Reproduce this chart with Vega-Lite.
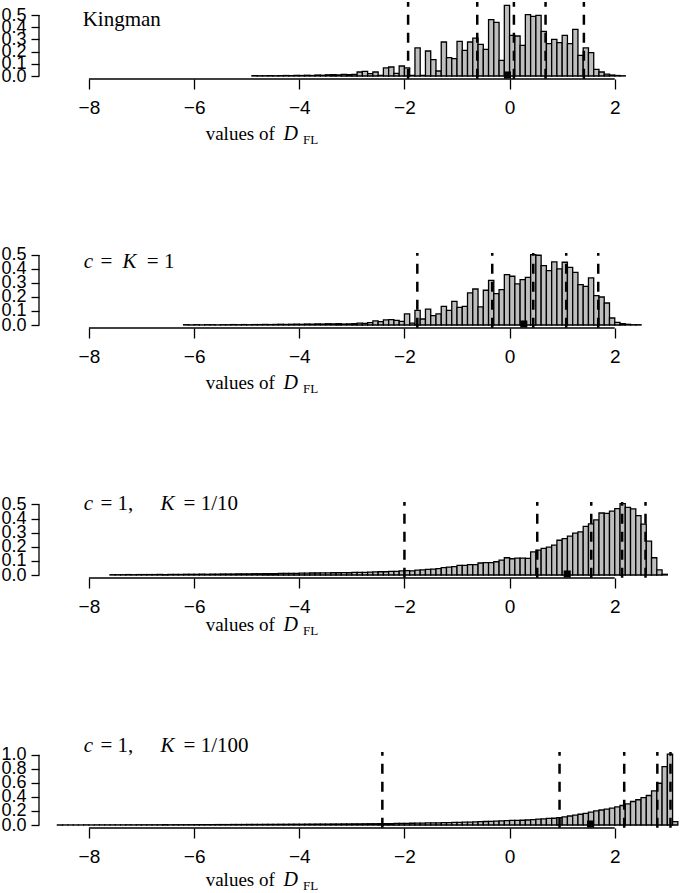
{
"$schema": "https://vega.github.io/schema/vega-lite/v6.json",
"padding": 0,
"background": "white",
"bounds": "flush",
"spacing": 177,
"config": {
  "view": {"stroke": null},
  "axis": {"labelFont": "Liberation Sans", "labelColor": "black", "tickColor": "black", "tickWidth": 1.3, "grid": false, "labelOverlap": false, "labelFlush": false, "labelBound": false, "domain": false}
},
"datasets": {
  "h1": [
    {"b":-4.9,"e":-4.8,"h":0.003},{"b":-4.8,"e":-4.7,"h":0.002},{"b":-4.7,"e":-4.6,"h":0.002},{"b":-4.6,"e":-4.5,"h":0.003},{"b":-4.5,"e":-4.4,"h":0.002},
    {"b":-4.4,"e":-4.3,"h":0.003},{"b":-4.3,"e":-4.2,"h":0.004},{"b":-4.2,"e":-4.1,"h":0.003},{"b":-4.1,"e":-4.0,"h":0.005},{"b":-4.0,"e":-3.9,"h":0.004},
    {"b":-3.9,"e":-3.8,"h":0.006},{"b":-3.8,"e":-3.7,"h":0.004},{"b":-3.7,"e":-3.6,"h":0.008},{"b":-3.6,"e":-3.5,"h":0.006},{"b":-3.5,"e":-3.4,"h":0.010},
    {"b":-3.4,"e":-3.3,"h":0.012},{"b":-3.3,"e":-3.2,"h":0.009},{"b":-3.2,"e":-3.1,"h":0.014},{"b":-3.1,"e":-3.0,"h":0.011},{"b":-3.0,"e":-2.9,"h":0.014},
    {"b":-2.9,"e":-2.8,"h":0.033},{"b":-2.8,"e":-2.7,"h":0.038},{"b":-2.7,"e":-2.6,"h":0.019},{"b":-2.6,"e":-2.5,"h":0.033},{"b":-2.5,"e":-2.4,"h":0.005},
    {"b":-2.4,"e":-2.3,"h":0.066},{"b":-2.3,"e":-2.2,"h":0.074},{"b":-2.2,"e":-2.1,"h":0.022},{"b":-2.1,"e":-2.0,"h":0.082},{"b":-2.0,"e":-1.9,"h":0.066},
    {"b":-1.9,"e":-1.8,"h":0.005},{"b":-1.8,"e":-1.7,"h":0.23},{"b":-1.7,"e":-1.6,"h":0.005},{"b":-1.6,"e":-1.5,"h":0.205},{"b":-1.5,"e":-1.4,"h":0.134},
    {"b":-1.4,"e":-1.3,"h":0.041},{"b":-1.3,"e":-1.2,"h":0.279},{"b":-1.2,"e":-1.1,"h":0.15},{"b":-1.1,"e":-1.0,"h":0.142},{"b":-1.0,"e":-0.9,"h":0.284},
    {"b":-0.9,"e":-0.8,"h":0.21},{"b":-0.8,"e":-0.7,"h":0.279},{"b":-0.7,"e":-0.6,"h":0.311},{"b":-0.6,"e":-0.5,"h":0.26},{"b":-0.5,"e":-0.4,"h":0.219},
    {"b":-0.4,"e":-0.3,"h":0.462},{"b":-0.3,"e":-0.2,"h":0.44},{"b":-0.2,"e":-0.1,"h":0.128},{"b":-0.1,"e":0.0,"h":0.579},{"b":0.0,"e":0.1,"h":0.333},
    {"b":0.1,"e":0.2,"h":0.328},{"b":0.2,"e":0.3,"h":0.251},{"b":0.3,"e":0.4,"h":0.503},{"b":0.4,"e":0.5,"h":0.489},{"b":0.5,"e":0.6,"h":0.497},
    {"b":0.6,"e":0.7,"h":0.366},{"b":0.7,"e":0.8,"h":0.265},{"b":0.8,"e":0.9,"h":0.30},{"b":0.9,"e":1.0,"h":0.273},{"b":1.0,"e":1.1,"h":0.333},
    {"b":1.1,"e":1.2,"h":0.265},{"b":1.2,"e":1.3,"h":0.383},{"b":1.3,"e":1.4,"h":0.169},{"b":1.4,"e":1.5,"h":0.23},{"b":1.5,"e":1.6,"h":0.191},
    {"b":1.6,"e":1.7,"h":0.055},{"b":1.7,"e":1.8,"h":0.033},{"b":1.8,"e":1.9,"h":0.016},{"b":1.9,"e":2.0,"h":0.008},{"b":2.0,"e":2.1,"h":0.004},
    {"b":2.1,"e":2.2,"h":0.002}
  ],
  "h2": [
    {"b":-6.2,"e":-6.1,"h":0.002},{"b":-6.1,"e":-6.0,"h":0.001},{"b":-6.0,"e":-5.9,"h":0.002},{"b":-5.9,"e":-5.8,"h":0.001},{"b":-5.8,"e":-5.7,"h":0.002},
    {"b":-5.7,"e":-5.6,"h":0.002},{"b":-5.6,"e":-5.5,"h":0.001},{"b":-5.5,"e":-5.4,"h":0.002},{"b":-5.4,"e":-5.3,"h":0.002},{"b":-5.3,"e":-5.2,"h":0.003},
    {"b":-5.2,"e":-5.1,"h":0.002},{"b":-5.1,"e":-5.0,"h":0.003},{"b":-5.0,"e":-4.9,"h":0.002},{"b":-4.9,"e":-4.8,"h":0.003},{"b":-4.8,"e":-4.7,"h":0.003},
    {"b":-4.7,"e":-4.6,"h":0.004},{"b":-4.6,"e":-4.5,"h":0.003},{"b":-4.5,"e":-4.4,"h":0.004},{"b":-4.4,"e":-4.3,"h":0.005},{"b":-4.3,"e":-4.2,"h":0.004},
    {"b":-4.2,"e":-4.1,"h":0.005},{"b":-4.1,"e":-4.0,"h":0.006},{"b":-4.0,"e":-3.9,"h":0.005},{"b":-3.9,"e":-3.8,"h":0.007},{"b":-3.8,"e":-3.7,"h":0.006},
    {"b":-3.7,"e":-3.6,"h":0.008},{"b":-3.6,"e":-3.5,"h":0.007},{"b":-3.5,"e":-3.4,"h":0.009},{"b":-3.4,"e":-3.3,"h":0.008},{"b":-3.3,"e":-3.2,"h":0.010},
    {"b":-3.2,"e":-3.1,"h":0.007},{"b":-3.1,"e":-3.0,"h":0.008},{"b":-3.0,"e":-2.9,"h":0.010},{"b":-2.9,"e":-2.8,"h":0.014},{"b":-2.8,"e":-2.7,"h":0.012},
    {"b":-2.7,"e":-2.6,"h":0.017},{"b":-2.6,"e":-2.5,"h":0.029},{"b":-2.5,"e":-2.4,"h":0.024},{"b":-2.4,"e":-2.3,"h":0.036},{"b":-2.3,"e":-2.2,"h":0.038},
    {"b":-2.2,"e":-2.1,"h":0.033},{"b":-2.1,"e":-2.0,"h":0.026},{"b":-2.0,"e":-1.9,"h":0.079},{"b":-1.9,"e":-1.8,"h":0.014},{"b":-1.8,"e":-1.7,"h":0.105},
    {"b":-1.7,"e":-1.6,"h":0.043},{"b":-1.6,"e":-1.5,"h":0.114},{"b":-1.5,"e":-1.4,"h":0.067},{"b":-1.4,"e":-1.3,"h":0.079},{"b":-1.3,"e":-1.2,"h":0.133},
    {"b":-1.2,"e":-1.1,"h":0.105},{"b":-1.1,"e":-1.0,"h":0.169},{"b":-1.0,"e":-0.9,"h":0.126},{"b":-0.9,"e":-0.8,"h":0.133},{"b":-0.8,"e":-0.7,"h":0.229},
    {"b":-0.7,"e":-0.6,"h":0.257},{"b":-0.6,"e":-0.5,"h":0.129},{"b":-0.5,"e":-0.4,"h":0.248},{"b":-0.4,"e":-0.3,"h":0.319},{"b":-0.3,"e":-0.2,"h":0.224},
    {"b":-0.2,"e":-0.1,"h":0.252},{"b":-0.1,"e":0.0,"h":0.36},{"b":0.0,"e":0.1,"h":0.348},{"b":0.1,"e":0.2,"h":0.293},{"b":0.2,"e":0.3,"h":0.324},
    {"b":0.3,"e":0.4,"h":0.34},{"b":0.4,"e":0.5,"h":0.502},{"b":0.5,"e":0.6,"h":0.498},{"b":0.6,"e":0.7,"h":0.424},{"b":0.7,"e":0.8,"h":0.388},
    {"b":0.8,"e":0.9,"h":0.45},{"b":0.9,"e":1.0,"h":0.40},{"b":1.0,"e":1.1,"h":0.448},{"b":1.1,"e":1.2,"h":0.412},{"b":1.2,"e":1.3,"h":0.376},
    {"b":1.3,"e":1.4,"h":0.288},{"b":1.4,"e":1.5,"h":0.276},{"b":1.5,"e":1.6,"h":0.336},{"b":1.6,"e":1.7,"h":0.21},{"b":1.7,"e":1.8,"h":0.20},
    {"b":1.8,"e":1.9,"h":0.157},{"b":1.9,"e":2.0,"h":0.05},{"b":2.0,"e":2.1,"h":0.019},{"b":2.1,"e":2.2,"h":0.01},{"b":2.2,"e":2.3,"h":0.005},
    {"b":2.3,"e":2.4,"h":0.002},{"b":2.4,"e":2.5,"h":0.002}
  ],
  "h3": [
    {"b":-7.6,"e":-7.5,"h":0.002},{"b":-7.5,"e":-7.4,"h":0.002},{"b":-7.4,"e":-7.3,"h":0.002},{"b":-7.3,"e":-7.2,"h":0.003},{"b":-7.2,"e":-7.1,"h":0.002},
    {"b":-7.1,"e":-7.0,"h":0.003},{"b":-7.0,"e":-6.9,"h":0.003},{"b":-6.9,"e":-6.8,"h":0.003},{"b":-6.8,"e":-6.7,"h":0.003},{"b":-6.7,"e":-6.6,"h":0.004},
    {"b":-6.6,"e":-6.5,"h":0.003},{"b":-6.5,"e":-6.4,"h":0.004},{"b":-6.4,"e":-6.3,"h":0.004},{"b":-6.3,"e":-6.2,"h":0.004},{"b":-6.2,"e":-6.1,"h":0.005},
    {"b":-6.1,"e":-6.0,"h":0.005},{"b":-6.0,"e":-5.9,"h":0.005},{"b":-5.9,"e":-5.8,"h":0.006},{"b":-5.8,"e":-5.7,"h":0.005},{"b":-5.7,"e":-5.6,"h":0.006},
    {"b":-5.6,"e":-5.5,"h":0.006},{"b":-5.5,"e":-5.4,"h":0.007},{"b":-5.4,"e":-5.3,"h":0.007},{"b":-5.3,"e":-5.2,"h":0.007},{"b":-5.2,"e":-5.1,"h":0.008},
    {"b":-5.1,"e":-5.0,"h":0.008},{"b":-5.0,"e":-4.9,"h":0.008},{"b":-4.9,"e":-4.8,"h":0.009},{"b":-4.8,"e":-4.7,"h":0.009},{"b":-4.7,"e":-4.6,"h":0.010},
    {"b":-4.6,"e":-4.5,"h":0.010},{"b":-4.5,"e":-4.4,"h":0.010},{"b":-4.4,"e":-4.3,"h":0.011},{"b":-4.3,"e":-4.2,"h":0.011},{"b":-4.2,"e":-4.1,"h":0.012},
    {"b":-4.1,"e":-4.0,"h":0.012},{"b":-4.0,"e":-3.9,"h":0.013},{"b":-3.9,"e":-3.8,"h":0.013},{"b":-3.8,"e":-3.7,"h":0.014},{"b":-3.7,"e":-3.6,"h":0.014},
    {"b":-3.6,"e":-3.5,"h":0.015},{"b":-3.5,"e":-3.4,"h":0.015},{"b":-3.4,"e":-3.3,"h":0.016},{"b":-3.3,"e":-3.2,"h":0.016},{"b":-3.2,"e":-3.1,"h":0.017},
    {"b":-3.1,"e":-3.0,"h":0.016},{"b":-3.0,"e":-2.9,"h":0.018},{"b":-2.9,"e":-2.8,"h":0.019},{"b":-2.8,"e":-2.7,"h":0.018},{"b":-2.7,"e":-2.6,"h":0.021},
    {"b":-2.6,"e":-2.5,"h":0.022},{"b":-2.5,"e":-2.4,"h":0.023},{"b":-2.4,"e":-2.3,"h":0.023},{"b":-2.3,"e":-2.2,"h":0.025},{"b":-2.2,"e":-2.1,"h":0.026},
    {"b":-2.1,"e":-2.0,"h":0.029},{"b":-2.0,"e":-1.9,"h":0.031},{"b":-1.9,"e":-1.8,"h":0.029},{"b":-1.8,"e":-1.7,"h":0.034},{"b":-1.7,"e":-1.6,"h":0.036},
    {"b":-1.6,"e":-1.5,"h":0.040},{"b":-1.5,"e":-1.4,"h":0.042},{"b":-1.4,"e":-1.3,"h":0.045},{"b":-1.3,"e":-1.2,"h":0.052},{"b":-1.2,"e":-1.1,"h":0.056},
    {"b":-1.1,"e":-1.0,"h":0.059},{"b":-1.0,"e":-0.9,"h":0.068},{"b":-0.9,"e":-0.8,"h":0.068},{"b":-0.8,"e":-0.7,"h":0.073},{"b":-0.7,"e":-0.6,"h":0.073},
    {"b":-0.6,"e":-0.5,"h":0.085},{"b":-0.5,"e":-0.4,"h":0.087},{"b":-0.4,"e":-0.3,"h":0.087},{"b":-0.3,"e":-0.2,"h":0.094},{"b":-0.2,"e":-0.1,"h":0.105},
    {"b":-0.1,"e":0.0,"h":0.122},{"b":0.0,"e":0.1,"h":0.115},{"b":0.1,"e":0.2,"h":0.12},{"b":0.2,"e":0.3,"h":0.12},{"b":0.3,"e":0.4,"h":0.118},
    {"b":0.4,"e":0.5,"h":0.164},{"b":0.5,"e":0.6,"h":0.176},{"b":0.6,"e":0.7,"h":0.188},{"b":0.7,"e":0.8,"h":0.197},{"b":0.8,"e":0.9,"h":0.211},
    {"b":0.9,"e":1.0,"h":0.246},{"b":1.0,"e":1.1,"h":0.258},{"b":1.1,"e":1.2,"h":0.275},{"b":1.2,"e":1.3,"h":0.296},{"b":1.3,"e":1.4,"h":0.305},
    {"b":1.4,"e":1.5,"h":0.345},{"b":1.5,"e":1.6,"h":0.362},{"b":1.6,"e":1.7,"h":0.39},{"b":1.7,"e":1.8,"h":0.439},{"b":1.8,"e":1.9,"h":0.436},
    {"b":1.9,"e":2.0,"h":0.452},{"b":2.0,"e":2.1,"h":0.47},{"b":2.1,"e":2.2,"h":0.505},{"b":2.2,"e":2.3,"h":0.479},{"b":2.3,"e":2.4,"h":0.468},
    {"b":2.4,"e":2.5,"h":0.42},{"b":2.5,"e":2.6,"h":0.36},{"b":2.6,"e":2.7,"h":0.24},{"b":2.7,"e":2.8,"h":0.122},{"b":2.8,"e":2.9,"h":0.037},
    {"b":2.9,"e":3.0,"h":0.005}
  ],
  "h4": [
    {"b":-8.6,"e":-8.5,"h":0.001},{"b":-8.5,"e":-8.4,"h":0.001},{"b":-8.4,"e":-8.3,"h":0.001},{"b":-8.3,"e":-8.2,"h":0.001},{"b":-8.2,"e":-8.1,"h":0.001},
    {"b":-8.1,"e":-8.0,"h":0.002},{"b":-8.0,"e":-7.9,"h":0.001},{"b":-7.9,"e":-7.8,"h":0.002},{"b":-7.8,"e":-7.7,"h":0.002},{"b":-7.7,"e":-7.6,"h":0.002},
    {"b":-7.6,"e":-7.5,"h":0.002},{"b":-7.5,"e":-7.4,"h":0.002},{"b":-7.4,"e":-7.3,"h":0.002},{"b":-7.3,"e":-7.2,"h":0.003},{"b":-7.2,"e":-7.1,"h":0.002},
    {"b":-7.1,"e":-7.0,"h":0.003},{"b":-7.0,"e":-6.9,"h":0.003},{"b":-6.9,"e":-6.8,"h":0.003},{"b":-6.8,"e":-6.7,"h":0.003},{"b":-6.7,"e":-6.6,"h":0.003},
    {"b":-6.6,"e":-6.5,"h":0.004},{"b":-6.5,"e":-6.4,"h":0.003},{"b":-6.4,"e":-6.3,"h":0.004},{"b":-6.3,"e":-6.2,"h":0.004},{"b":-6.2,"e":-6.1,"h":0.004},
    {"b":-6.1,"e":-6.0,"h":0.004},{"b":-6.0,"e":-5.9,"h":0.005},{"b":-5.9,"e":-5.8,"h":0.005},{"b":-5.8,"e":-5.7,"h":0.005},{"b":-5.7,"e":-5.6,"h":0.005},
    {"b":-5.6,"e":-5.5,"h":0.006},{"b":-5.5,"e":-5.4,"h":0.006},{"b":-5.4,"e":-5.3,"h":0.006},{"b":-5.3,"e":-5.2,"h":0.007},{"b":-5.2,"e":-5.1,"h":0.007},
    {"b":-5.1,"e":-5.0,"h":0.007},{"b":-5.0,"e":-4.9,"h":0.008},{"b":-4.9,"e":-4.8,"h":0.008},{"b":-4.8,"e":-4.7,"h":0.008},{"b":-4.7,"e":-4.6,"h":0.009},
    {"b":-4.6,"e":-4.5,"h":0.009},{"b":-4.5,"e":-4.4,"h":0.009},{"b":-4.4,"e":-4.3,"h":0.010},{"b":-4.3,"e":-4.2,"h":0.010},{"b":-4.2,"e":-4.1,"h":0.011},
    {"b":-4.1,"e":-4.0,"h":0.011},{"b":-4.0,"e":-3.9,"h":0.011},{"b":-3.9,"e":-3.8,"h":0.012},{"b":-3.8,"e":-3.7,"h":0.012},{"b":-3.7,"e":-3.6,"h":0.013},
    {"b":-3.6,"e":-3.5,"h":0.013},{"b":-3.5,"e":-3.4,"h":0.013},{"b":-3.4,"e":-3.3,"h":0.014},{"b":-3.3,"e":-3.2,"h":0.014},{"b":-3.2,"e":-3.1,"h":0.015},
    {"b":-3.1,"e":-3.0,"h":0.015},{"b":-3.0,"e":-2.9,"h":0.016},{"b":-2.9,"e":-2.8,"h":0.016},{"b":-2.8,"e":-2.7,"h":0.017},{"b":-2.7,"e":-2.6,"h":0.018},
    {"b":-2.6,"e":-2.5,"h":0.018},{"b":-2.5,"e":-2.4,"h":0.019},{"b":-2.4,"e":-2.3,"h":0.020},{"b":-2.3,"e":-2.2,"h":0.021},{"b":-2.2,"e":-2.1,"h":0.022},
    {"b":-2.1,"e":-2.0,"h":0.023},{"b":-2.0,"e":-1.9,"h":0.024},{"b":-1.9,"e":-1.8,"h":0.025},{"b":-1.8,"e":-1.7,"h":0.026},{"b":-1.7,"e":-1.6,"h":0.027},
    {"b":-1.6,"e":-1.5,"h":0.029},{"b":-1.5,"e":-1.4,"h":0.030},{"b":-1.4,"e":-1.3,"h":0.031},{"b":-1.3,"e":-1.2,"h":0.033},{"b":-1.2,"e":-1.1,"h":0.035},
    {"b":-1.1,"e":-1.0,"h":0.036},{"b":-1.0,"e":-0.9,"h":0.038},{"b":-0.9,"e":-0.8,"h":0.040},{"b":-0.8,"e":-0.7,"h":0.042},{"b":-0.7,"e":-0.6,"h":0.045},
    {"b":-0.6,"e":-0.5,"h":0.047},{"b":-0.5,"e":-0.4,"h":0.050},{"b":-0.4,"e":-0.3,"h":0.052},{"b":-0.3,"e":-0.2,"h":0.055},{"b":-0.2,"e":-0.1,"h":0.058},
    {"b":-0.1,"e":0.0,"h":0.062},{"b":0.0,"e":0.1,"h":0.066},{"b":0.1,"e":0.2,"h":0.067},{"b":0.2,"e":0.3,"h":0.068},{"b":0.3,"e":0.4,"h":0.071},
    {"b":0.4,"e":0.5,"h":0.078},{"b":0.5,"e":0.6,"h":0.085},{"b":0.6,"e":0.7,"h":0.087},{"b":0.7,"e":0.8,"h":0.094},{"b":0.8,"e":0.9,"h":0.096},
    {"b":0.9,"e":1.0,"h":0.105},{"b":1.0,"e":1.1,"h":0.117},{"b":1.1,"e":1.2,"h":0.128},{"b":1.2,"e":1.3,"h":0.14},{"b":1.3,"e":1.4,"h":0.153},
    {"b":1.4,"e":1.5,"h":0.167},{"b":1.5,"e":1.6,"h":0.183},{"b":1.6,"e":1.7,"h":0.2},{"b":1.7,"e":1.8,"h":0.214},{"b":1.8,"e":1.9,"h":0.226},
    {"b":1.9,"e":2.0,"h":0.24},{"b":2.0,"e":2.1,"h":0.258},{"b":2.1,"e":2.2,"h":0.278},{"b":2.2,"e":2.3,"h":0.30},{"b":2.3,"e":2.4,"h":0.335},
    {"b":2.4,"e":2.5,"h":0.36},{"b":2.5,"e":2.6,"h":0.39},{"b":2.6,"e":2.7,"h":0.42},{"b":2.7,"e":2.8,"h":0.486},{"b":2.8,"e":2.9,"h":0.595},
    {"b":2.9,"e":3.0,"h":0.833},{"b":3.0,"e":3.1,"h":1.01},{"b":3.1,"e":3.2,"h":0.048}
  ],
  "q1": [{"q":-1.93},{"q":-0.615},{"q":0.082},{"q":0.684},{"q":1.413}],
  "q2": [{"q":-1.755},{"q":-0.33},{"q":0.45},{"q":1.077},{"q":1.686}],
  "q3": [{"q":-2.0},{"q":0.526},{"q":1.553},{"q":2.14},{"q":2.585}],
  "q4": [{"q":-2.42},{"q":0.95},{"q":2.18},{"q":2.81},{"q":3.06}],
  "m1": [{"m":-0.04}],
  "m2": [{"m":0.27}],
  "m3": [{"m":1.096}],
  "m4": [{"m":1.54}],
  "one": [{}]
},
"vconcat": [
 {
  "width": 642, "height": 74,
  "resolve": {"axis": {"x": "independent", "y": "independent"}},
  "layer": [
   {"data": {"name": "h1"}, "mark": {"type": "rect", "fill": "#bebebe", "stroke": "black", "strokeWidth": 1.3},
    "encoding": {
     "x": {"field": "b", "type": "quantitative", "scale": {"domain": [-8.95, 3.26], "nice": false, "zero": false},
           "axis": {"values": [-8,-6,-4,-2,0,2], "format": "d", "offset": 3, "tickSize": 10, "labelFontSize": 19, "labelPadding": 9, "title": null}},
     "x2": {"field": "e"},
     "y": {"field": "h", "type": "quantitative", "scale": {"domain": [0, 0.607], "nice": false},
           "axis": {"values": [0,0.1,0.2,0.3,0.4,0.5], "format": ".1f", "tickSize": 8, "labelPadding": 5, "labelFontSize": 18, "title": null}},
     "y2": {"datum": 0}
    }},
   {"data": {"name": "q1"}, "mark": {"type": "rule", "color": "black", "strokeWidth": 2.5, "strokeDash": [10, 8]},
    "encoding": {"x": {"field": "q", "type": "quantitative", "axis": null}, "y": {"datum": -0.022, "axis": null}, "y2": {"datum": 0.607}}},
   {"data": {"name": "m1"}, "mark": {"type": "square", "size": 50, "color": "black", "filled": true, "opacity": 1, "yOffset": -1},
    "encoding": {"x": {"field": "m", "type": "quantitative", "axis": null}, "y": {"datum": 0, "axis": null}}},
   {"data": {"name": "one"}, "mark": {"type": "rule", "color": "black", "strokeWidth": 1.3},
    "encoding": {"x": {"datum": -8.95, "axis": null}, "y": {"datum": 0, "axis": null}, "y2": {"datum": 0.5}}},
   {"data": {"name": "one"}, "mark": {"type": "rule", "color": "black", "strokeWidth": 1.3, "yOffset": 3},
    "encoding": {"x": {"datum": -8, "axis": null}, "x2": {"datum": 2}, "y": {"datum": 0, "axis": null}}},
   {"data": {"name": "one"}, "mark": {"type": "text", "font": "Liberation Serif", "fontSize": 21, "align": "left", "baseline": "alphabetic", "color": "black"},
    "encoding": {"x": {"datum": -8.12, "axis": null}, "y": {"datum": 0.41, "axis": null}, "text": {"value": "Kingman"}}},
   {"data": {"name": "one"}, "mark": {"type": "text", "font": "Liberation Serif", "fontSize": 19, "align": "left", "baseline": "alphabetic", "dy": 64, "color": "black"},
    "encoding": {"x": {"datum": -5.78, "axis": null}, "y": {"datum": 0, "axis": null}, "text": {"value": "values of"}}},
   {"data": {"name": "one"}, "mark": {"type": "text", "font": "Liberation Serif", "fontStyle": "italic", "fontSize": 20, "align": "left", "baseline": "alphabetic", "dy": 64, "color": "black"},
    "encoding": {"x": {"datum": -4.3, "axis": null}, "y": {"datum": 0, "axis": null}, "text": {"value": "D"}}},
   {"data": {"name": "one"}, "mark": {"type": "text", "font": "Liberation Serif", "fontSize": 13, "align": "left", "baseline": "alphabetic", "dy": 68, "color": "black"},
    "encoding": {"x": {"datum": -3.93, "axis": null}, "y": {"datum": 0, "axis": null}, "text": {"value": "FL"}}}
  ]
 },
 {
  "width": 642, "height": 72,
  "resolve": {"axis": {"x": "independent", "y": "independent"}},
  "layer": [
   {"data": {"name": "h2"}, "mark": {"type": "rect", "fill": "#bebebe", "stroke": "black", "strokeWidth": 1.3},
    "encoding": {
     "x": {"field": "b", "type": "quantitative", "scale": {"domain": [-8.95, 3.26], "nice": false, "zero": false},
           "axis": {"values": [-8,-6,-4,-2,0,2], "format": "d", "offset": 3, "tickSize": 10, "labelFontSize": 19, "labelPadding": 9, "title": null}},
     "x2": {"field": "e"},
     "y": {"field": "h", "type": "quantitative", "scale": {"domain": [0, 0.514], "nice": false},
           "axis": {"values": [0,0.1,0.2,0.3,0.4,0.5], "format": ".1f", "tickSize": 8, "labelPadding": 5, "labelFontSize": 18, "title": null}},
     "y2": {"datum": 0}
    }},
   {"data": {"name": "q2"}, "mark": {"type": "rule", "color": "black", "strokeWidth": 2.5, "strokeDash": [10, 8]},
    "encoding": {"x": {"field": "q", "type": "quantitative", "axis": null}, "y": {"datum": -0.019, "axis": null}, "y2": {"datum": 0.514}}},
   {"data": {"name": "m2"}, "mark": {"type": "square", "size": 50, "color": "black", "filled": true, "opacity": 1, "yOffset": -1},
    "encoding": {"x": {"field": "m", "type": "quantitative", "axis": null}, "y": {"datum": 0, "axis": null}}},
   {"data": {"name": "one"}, "mark": {"type": "rule", "color": "black", "strokeWidth": 1.3},
    "encoding": {"x": {"datum": -8.95, "axis": null}, "y": {"datum": 0, "axis": null}, "y2": {"datum": 0.5}}},
   {"data": {"name": "one"}, "mark": {"type": "rule", "color": "black", "strokeWidth": 1.3, "yOffset": 3},
    "encoding": {"x": {"datum": -8, "axis": null}, "x2": {"datum": 2}, "y": {"datum": 0, "axis": null}}},
   {"data": {"name": "one"}, "mark": {"type": "text", "font": "Liberation Serif", "fontStyle": "italic", "fontSize": 21, "align": "left", "baseline": "alphabetic", "color": "black"},
    "encoding": {"x": {"datum": -8.10, "axis": null}, "y": {"datum": 0.407, "axis": null}, "text": {"value": "c"}}},
   {"data": {"name": "one"}, "mark": {"type": "text", "font": "Liberation Serif", "fontSize": 21, "align": "left", "baseline": "alphabetic", "color": "black"},
    "encoding": {"x": {"datum": -7.78, "axis": null}, "y": {"datum": 0.407, "axis": null}, "text": {"value": "="}}},
   {"data": {"name": "one"}, "mark": {"type": "text", "font": "Liberation Serif", "fontStyle": "italic", "fontSize": 21, "align": "left", "baseline": "alphabetic", "color": "black"},
    "encoding": {"x": {"datum": -7.36, "axis": null}, "y": {"datum": 0.407, "axis": null}, "text": {"value": "K"}}},
   {"data": {"name": "one"}, "mark": {"type": "text", "font": "Liberation Serif", "fontSize": 21, "align": "left", "baseline": "alphabetic", "color": "black"},
    "encoding": {"x": {"datum": -6.90, "axis": null}, "y": {"datum": 0.407, "axis": null}, "text": {"value": "=  1"}}},
   {"data": {"name": "one"}, "mark": {"type": "text", "font": "Liberation Serif", "fontSize": 19, "align": "left", "baseline": "alphabetic", "dy": 64, "color": "black"},
    "encoding": {"x": {"datum": -5.78, "axis": null}, "y": {"datum": 0, "axis": null}, "text": {"value": "values of"}}},
   {"data": {"name": "one"}, "mark": {"type": "text", "font": "Liberation Serif", "fontStyle": "italic", "fontSize": 20, "align": "left", "baseline": "alphabetic", "dy": 64, "color": "black"},
    "encoding": {"x": {"datum": -4.3, "axis": null}, "y": {"datum": 0, "axis": null}, "text": {"value": "D"}}},
   {"data": {"name": "one"}, "mark": {"type": "text", "font": "Liberation Serif", "fontSize": 13, "align": "left", "baseline": "alphabetic", "dy": 68, "color": "black"},
    "encoding": {"x": {"datum": -3.93, "axis": null}, "y": {"datum": 0, "axis": null}, "text": {"value": "FL"}}}
  ]
 },
 {
  "width": 642, "height": 73,
  "resolve": {"axis": {"x": "independent", "y": "independent"}},
  "layer": [
   {"data": {"name": "h3"}, "mark": {"type": "rect", "fill": "#bebebe", "stroke": "black", "strokeWidth": 1.3},
    "encoding": {
     "x": {"field": "b", "type": "quantitative", "scale": {"domain": [-8.95, 3.26], "nice": false, "zero": false},
           "axis": {"values": [-8,-6,-4,-2,0,2], "format": "d", "offset": 3, "tickSize": 10, "labelFontSize": 19, "labelPadding": 9, "title": null}},
     "x2": {"field": "e"},
     "y": {"field": "h", "type": "quantitative", "scale": {"domain": [0, 0.517], "nice": false},
           "axis": {"values": [0,0.1,0.2,0.3,0.4,0.5], "format": ".1f", "tickSize": 8, "labelPadding": 5, "labelFontSize": 18, "title": null}},
     "y2": {"datum": 0}
    }},
   {"data": {"name": "q3"}, "mark": {"type": "rule", "color": "black", "strokeWidth": 2.5, "strokeDash": [10, 8]},
    "encoding": {"x": {"field": "q", "type": "quantitative", "axis": null}, "y": {"datum": -0.019, "axis": null}, "y2": {"datum": 0.517}}},
   {"data": {"name": "m3"}, "mark": {"type": "square", "size": 50, "color": "black", "filled": true, "opacity": 1, "yOffset": -1},
    "encoding": {"x": {"field": "m", "type": "quantitative", "axis": null}, "y": {"datum": 0, "axis": null}}},
   {"data": {"name": "one"}, "mark": {"type": "rule", "color": "black", "strokeWidth": 1.3},
    "encoding": {"x": {"datum": -8.95, "axis": null}, "y": {"datum": 0, "axis": null}, "y2": {"datum": 0.5}}},
   {"data": {"name": "one"}, "mark": {"type": "rule", "color": "black", "strokeWidth": 1.3, "yOffset": 3},
    "encoding": {"x": {"datum": -8, "axis": null}, "x2": {"datum": 2}, "y": {"datum": 0, "axis": null}}},
   {"data": {"name": "one"}, "mark": {"type": "text", "font": "Liberation Serif", "fontStyle": "italic", "fontSize": 21, "align": "left", "baseline": "alphabetic", "color": "black"},
    "encoding": {"x": {"datum": -8.10, "axis": null}, "y": {"datum": 0.46, "axis": null}, "text": {"value": "c"}}},
   {"data": {"name": "one"}, "mark": {"type": "text", "font": "Liberation Serif", "fontSize": 21, "align": "left", "baseline": "alphabetic", "color": "black"},
    "encoding": {"x": {"datum": -7.78, "axis": null}, "y": {"datum": 0.46, "axis": null}, "text": {"value": "=  1,"}}},
   {"data": {"name": "one"}, "mark": {"type": "text", "font": "Liberation Serif", "fontStyle": "italic", "fontSize": 21, "align": "left", "baseline": "alphabetic", "color": "black"},
    "encoding": {"x": {"datum": -6.64, "axis": null}, "y": {"datum": 0.46, "axis": null}, "text": {"value": "K"}}},
   {"data": {"name": "one"}, "mark": {"type": "text", "font": "Liberation Serif", "fontSize": 21, "align": "left", "baseline": "alphabetic", "color": "black"},
    "encoding": {"x": {"datum": -6.20, "axis": null}, "y": {"datum": 0.46, "axis": null}, "text": {"value": "=  1/10"}}},
   {"data": {"name": "one"}, "mark": {"type": "text", "font": "Liberation Serif", "fontSize": 19, "align": "left", "baseline": "alphabetic", "dy": 56, "color": "black"},
    "encoding": {"x": {"datum": -5.78, "axis": null}, "y": {"datum": 0, "axis": null}, "text": {"value": "values of"}}},
   {"data": {"name": "one"}, "mark": {"type": "text", "font": "Liberation Serif", "fontStyle": "italic", "fontSize": 20, "align": "left", "baseline": "alphabetic", "dy": 56, "color": "black"},
    "encoding": {"x": {"datum": -4.3, "axis": null}, "y": {"datum": 0, "axis": null}, "text": {"value": "D"}}},
   {"data": {"name": "one"}, "mark": {"type": "text", "font": "Liberation Serif", "fontSize": 13, "align": "left", "baseline": "alphabetic", "dy": 60, "color": "black"},
    "encoding": {"x": {"datum": -3.93, "axis": null}, "y": {"datum": 0, "axis": null}, "text": {"value": "FL"}}}
  ]
 },
 {
  "width": 642, "height": 73,
  "resolve": {"axis": {"x": "independent", "y": "independent"}},
  "layer": [
   {"data": {"name": "h4"}, "mark": {"type": "rect", "fill": "#bebebe", "stroke": "black", "strokeWidth": 1.3},
    "encoding": {
     "x": {"field": "b", "type": "quantitative", "scale": {"domain": [-8.95, 3.26], "nice": false, "zero": false},
           "axis": {"values": [-8,-6,-4,-2,0,2], "format": "d", "offset": 3, "tickSize": 10, "labelFontSize": 19, "labelPadding": 9, "title": null}},
     "x2": {"field": "e"},
     "y": {"field": "h", "type": "quantitative", "scale": {"domain": [0, 1.04], "nice": false},
           "axis": {"values": [0,0.2,0.4,0.6,0.8,1.0], "format": ".1f", "tickSize": 8, "labelPadding": 5, "labelFontSize": 18, "title": null}},
     "y2": {"datum": 0}
    }},
   {"data": {"name": "q4"}, "mark": {"type": "rule", "color": "black", "strokeWidth": 2.5, "strokeDash": [10, 8]},
    "encoding": {"x": {"field": "q", "type": "quantitative", "axis": null}, "y": {"datum": -0.04, "axis": null}, "y2": {"datum": 1.04}}},
   {"data": {"name": "m4"}, "mark": {"type": "square", "size": 50, "color": "black", "filled": true, "opacity": 1, "yOffset": -1},
    "encoding": {"x": {"field": "m", "type": "quantitative", "axis": null}, "y": {"datum": 0, "axis": null}}},
   {"data": {"name": "one"}, "mark": {"type": "rule", "color": "black", "strokeWidth": 1.3},
    "encoding": {"x": {"datum": -8.95, "axis": null}, "y": {"datum": 0, "axis": null}, "y2": {"datum": 1.0}}},
   {"data": {"name": "one"}, "mark": {"type": "rule", "color": "black", "strokeWidth": 1.3, "yOffset": 3},
    "encoding": {"x": {"datum": -8, "axis": null}, "x2": {"datum": 2}, "y": {"datum": 0, "axis": null}}},
   {"data": {"name": "one"}, "mark": {"type": "text", "font": "Liberation Serif", "fontStyle": "italic", "fontSize": 21, "align": "left", "baseline": "alphabetic", "color": "black"},
    "encoding": {"x": {"datum": -8.10, "axis": null}, "y": {"datum": 1.04, "axis": null}, "text": {"value": "c"}}},
   {"data": {"name": "one"}, "mark": {"type": "text", "font": "Liberation Serif", "fontSize": 21, "align": "left", "baseline": "alphabetic", "color": "black"},
    "encoding": {"x": {"datum": -7.78, "axis": null}, "y": {"datum": 1.04, "axis": null}, "text": {"value": "=  1,"}}},
   {"data": {"name": "one"}, "mark": {"type": "text", "font": "Liberation Serif", "fontStyle": "italic", "fontSize": 21, "align": "left", "baseline": "alphabetic", "color": "black"},
    "encoding": {"x": {"datum": -6.64, "axis": null}, "y": {"datum": 1.04, "axis": null}, "text": {"value": "K"}}},
   {"data": {"name": "one"}, "mark": {"type": "text", "font": "Liberation Serif", "fontSize": 21, "align": "left", "baseline": "alphabetic", "color": "black"},
    "encoding": {"x": {"datum": -6.20, "axis": null}, "y": {"datum": 1.04, "axis": null}, "text": {"value": "=  1/100"}}},
   {"data": {"name": "one"}, "mark": {"type": "text", "font": "Liberation Serif", "fontSize": 19, "align": "left", "baseline": "alphabetic", "dy": 61, "color": "black"},
    "encoding": {"x": {"datum": -5.78, "axis": null}, "y": {"datum": 0, "axis": null}, "text": {"value": "values of"}}},
   {"data": {"name": "one"}, "mark": {"type": "text", "font": "Liberation Serif", "fontStyle": "italic", "fontSize": 20, "align": "left", "baseline": "alphabetic", "dy": 61, "color": "black"},
    "encoding": {"x": {"datum": -4.3, "axis": null}, "y": {"datum": 0, "axis": null}, "text": {"value": "D"}}},
   {"data": {"name": "one"}, "mark": {"type": "text", "font": "Liberation Serif", "fontSize": 13, "align": "left", "baseline": "alphabetic", "dy": 65, "color": "black"},
    "encoding": {"x": {"datum": -3.93, "axis": null}, "y": {"datum": 0, "axis": null}, "text": {"value": "FL"}}}
  ]
 }
]
}
